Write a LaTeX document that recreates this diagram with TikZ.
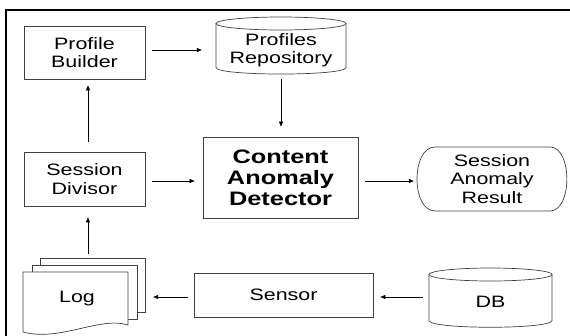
\documentclass[tikz,border=0pt]{standalone}
\usepackage{fontspec}
\setmainfont[FakeStretch=1.3]{Liberation Sans}
\usetikzlibrary{arrows.meta}
\newcommand\rgfnt{\fontsize{16.5}{18.5}\selectfont}
\newcommand\bdfnt{\fontsize{19.5}{21}\selectfont\bfseries}
\tikzset{
  box/.style={draw=black!75, line width=0.7pt, fill=white, inner sep=0pt, align=center, font=\rgfnt},
  lbl/.style={inner sep=0pt, align=center, font=\rgfnt},
  shp/.style={draw=black!75, line width=0.7pt, fill=white},
  arr/.style={-{Triangle[length=5pt,width=4pt]}, line width=0.6pt},
}
\begin{document}
\begin{tikzpicture}[x=1pt,y=-1pt]
\useasboundingbox (0,0) rectangle (570,335);
% frame
\draw[line width=2pt, line cap=rect] (5.7,335) -- (5.7,10.3) -- (570,10.3);

% boxes
\node[box, minimum width=121pt, minimum height=53pt] (pb) at (84.5,52.5) {Profile\\Builder};
\node[box, minimum width=121pt, minimum height=54pt] (sd) at (84.5,179) {Session\\Divisor};
\node[box, minimum width=155pt, minimum height=81pt, font=\bdfnt] (cad) at (280.5,177.5) {Content\\Anomaly\\Detector};
\node[box, minimum width=179pt, minimum height=44pt] (sensor) at (283.5,295) {Sensor};

% profiles repository cylinder
\draw[shp] (216,23.5) -- (216,67.5) .. controls (216,76.2) and (346,76.2) .. (346,67.5) -- (346,23.5) -- cycle;
\draw[shp] (281,23.5) ellipse [x radius=65, y radius=6.5];
\node[lbl, minimum width=130pt, minimum height=48pt] (pr) at (281,50) {Profiles\\Repository};

% DB cylinder
\draw[shp] (429,274.5) -- (429,320.5) .. controls (429,329.5) and (552,329.5) .. (552,320.5) -- (552,274.5) -- cycle;
\draw[shp] (490.5,274.5) ellipse [x radius=61.5, y radius=6.5];
\node[lbl, minimum width=123pt, minimum height=51pt] (db) at (490.5,301.5) {DB};

% session anomaly result
\draw[shp] (435,147) -- (550,147) .. controls (572.5,147) and (572.5,211) .. (550,211)
  -- (435,211) .. controls (411,211) and (411,147) .. (435,147) -- cycle;
\node[lbl, minimum width=150pt, minimum height=64pt] (sar) at (492,179) {Session\\Anomaly\\Result};

% log document stack
\draw[shp] (40,258) rectangle (145,312);
\draw[shp] (32,265) rectangle (137,319);
\draw[shp] (23,272) -- (128,272) -- (128,325) .. controls (100,316) and (60,342) .. (23,332) -- cycle;
\node[lbl, minimum width=136pt, minimum height=82pt] (log) at (77,299) {Log};

% connectors
\draw[arr, shorten <=7pt, shorten >=14pt] ([yshift=2.5pt]pb.east) -- ([yshift=2.5pt]pb.east -| pr.west);
\draw[arr, shorten <=5pt, shorten >=10pt] (pr.south) -- (pr.south |- cad.north);
\draw[arr, shorten <=10pt, shorten >=6pt] ([xshift=3.5pt]sd.north) -- ([xshift=3.5pt]pb.south);
\draw[arr, shorten <=7pt, shorten >=8pt] ([yshift=-2pt]sd.east) -- ([yshift=-2pt]sd.east -| cad.west);
\draw[arr, shorten <=7pt, shorten >=3pt] ([yshift=-3.5pt]cad.east) -- ([yshift=-3.5pt]cad.east -| sar.west);
\draw[arr, shorten <=4pt, shorten >=11pt] ([xshift=3.5pt]sd.south |- log.north) -- ([xshift=3.5pt]sd.south);
\draw[arr, shorten <=6pt, shorten >=8pt] ([yshift=-2pt]sensor.west) -- ([yshift=-2pt]sensor.west -| log.east);
\draw[arr, shorten <=6pt, shorten >=7pt] ([yshift=-2pt]sensor.east -| db.west) -- ([yshift=-2pt]sensor.east);
\end{tikzpicture}
\end{document}
